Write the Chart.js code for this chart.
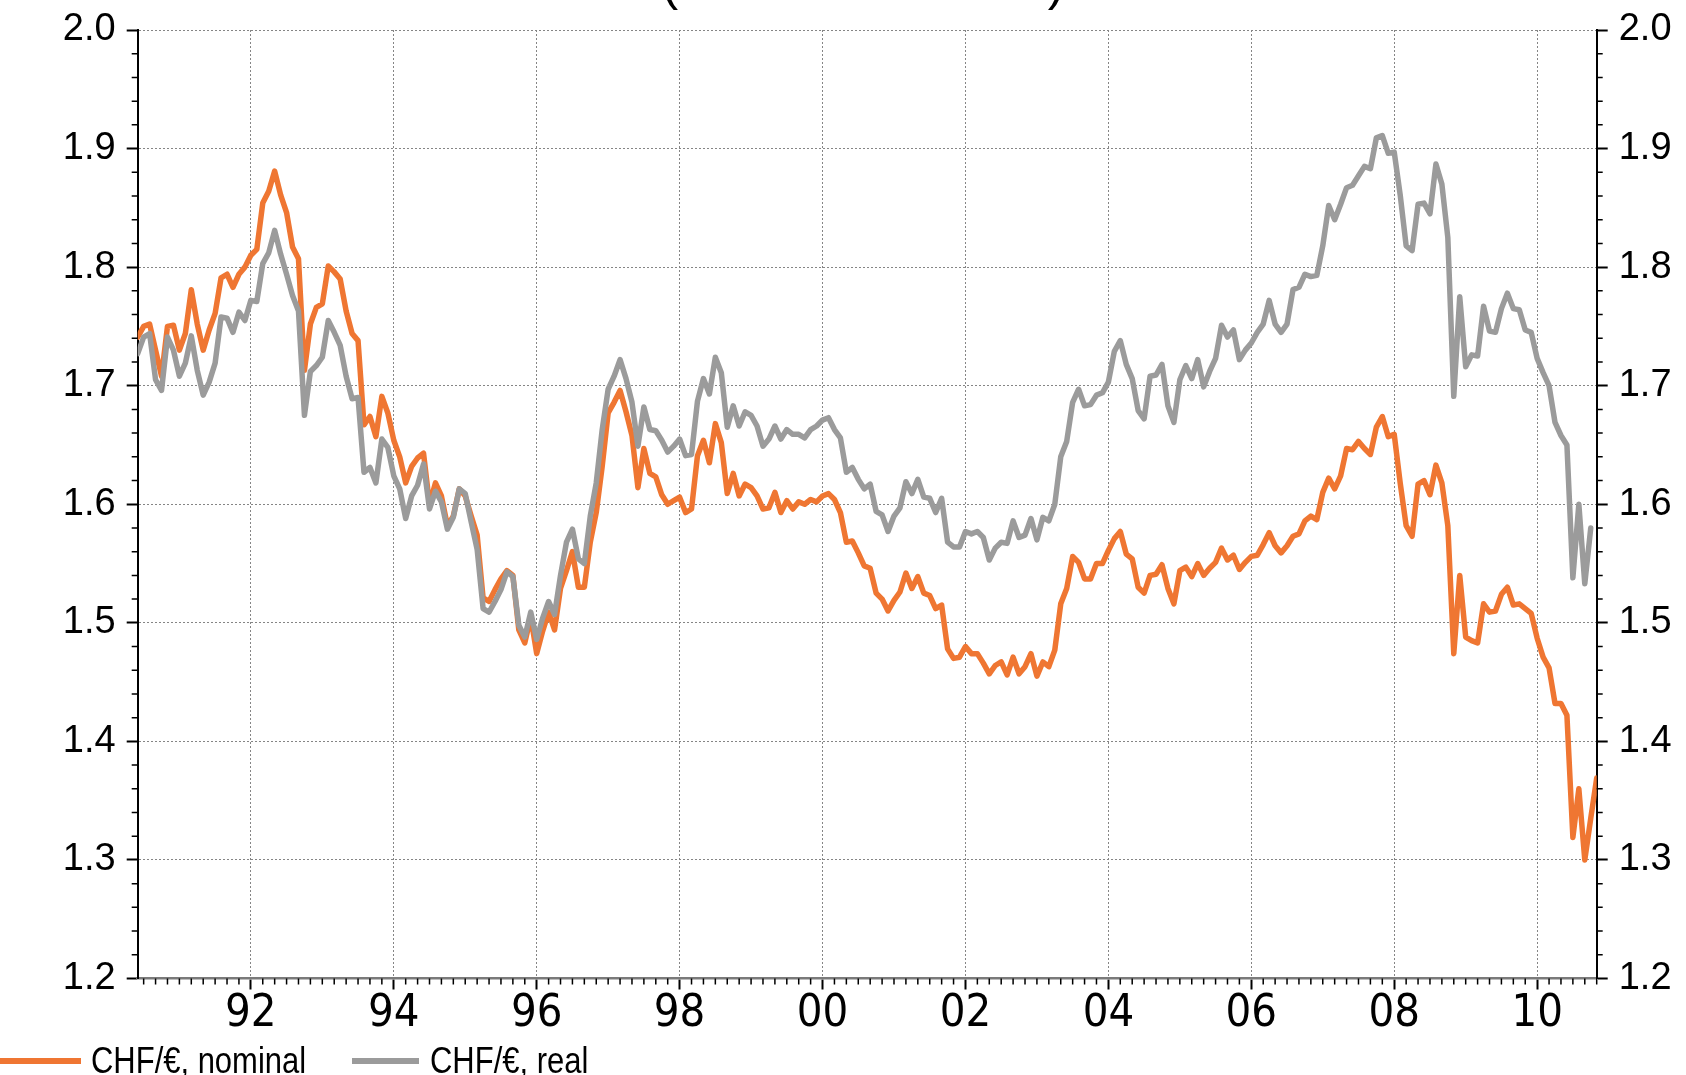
<!DOCTYPE html>
<html>
<head>
<meta charset="utf-8">
<script src="https://cdn.jsdelivr.net/npm/chart.js@4.4.1/dist/chart.umd.min.js"></script>
<style>
  html, body { margin: 0; padding: 0; background: #fff; }
  #page { position: relative; width: 1686px; height: 1075px; overflow: hidden; }
  #chart { position: absolute; left: 0; top: 0; }
  #title { position: absolute; left: 863px; top: -42px; transform: translateX(-50%);
           font: 50px/50px 'Liberation Sans', Arial, sans-serif; white-space: nowrap; color: #000; }
  .swatch { position: absolute; height: 6px; top: 1058px; }
  .ltxt { position: absolute; top: 1040px; font: 36px/42px 'Liberation Sans', Arial, sans-serif;
          color: #000; white-space: nowrap; transform: scaleX(0.86); transform-origin: left center; }
</style>
</head>
<body>
<div id="page">
  <canvas id="chart" width="1686" height="1075"></canvas>
  <div id="title">(nominal and real)</div>
  <div id="legend"></div>
</div>
<script>
// CHF per EUR, monthly, June 1990 .. Nov 2010
const firstYear = 1990;
const firstMonth = 6;

const seriesLabels = ['CHF/€, nominal', 'CHF/€, real'];
const seriesColors = ['#EF7632', '#9B9B9B'];

const nominal = [
  1.741, 1.750, 1.752, 1.730, 1.708, 1.750, 1.751, 1.730, 1.744, 1.781,
  1.752, 1.730, 1.747, 1.761, 1.791, 1.794, 1.783, 1.794, 1.800, 1.810,
  1.815, 1.854, 1.864, 1.881, 1.861, 1.846, 1.817, 1.807, 1.713, 1.752,
  1.766, 1.769, 1.801, 1.796, 1.790, 1.763, 1.744, 1.738, 1.667, 1.674,
  1.657, 1.691, 1.677, 1.654, 1.640, 1.618, 1.632, 1.639, 1.643, 1.600,
  1.618, 1.607, 1.582, 1.590, 1.613, 1.607, 1.590, 1.574, 1.521, 1.518,
  1.528, 1.537, 1.544, 1.540, 1.494, 1.483, 1.505, 1.474, 1.493, 1.509,
  1.494, 1.529, 1.544, 1.560, 1.530, 1.530, 1.568, 1.593, 1.632, 1.677,
  1.686, 1.696, 1.678, 1.658, 1.614, 1.647, 1.626, 1.623, 1.608, 1.600,
  1.603, 1.606, 1.593, 1.596, 1.641, 1.654, 1.635, 1.668, 1.652, 1.609,
  1.626, 1.607, 1.617, 1.614, 1.607, 1.596, 1.597, 1.610, 1.593, 1.603,
  1.596, 1.602, 1.600, 1.604, 1.602, 1.607, 1.609, 1.604, 1.593, 1.568,
  1.569, 1.559, 1.548, 1.546, 1.525, 1.520, 1.510, 1.519, 1.526, 1.542,
  1.529, 1.539, 1.525, 1.523, 1.512, 1.515, 1.478, 1.470, 1.471, 1.480,
  1.474, 1.474, 1.466, 1.457, 1.464, 1.467, 1.456, 1.471, 1.457, 1.463,
  1.474, 1.455, 1.467, 1.463, 1.477, 1.516, 1.529, 1.556, 1.551, 1.537,
  1.537, 1.550, 1.550, 1.561, 1.571, 1.577, 1.558, 1.554, 1.530, 1.525,
  1.540, 1.541, 1.549, 1.529, 1.516, 1.544, 1.547, 1.539, 1.550, 1.540,
  1.546, 1.551, 1.563, 1.553, 1.557, 1.545, 1.551, 1.556, 1.557, 1.566,
  1.576, 1.565, 1.559, 1.565, 1.573, 1.575, 1.586, 1.590, 1.587, 1.610,
  1.622, 1.613, 1.624, 1.647, 1.646, 1.653, 1.647, 1.642, 1.665, 1.674,
  1.657, 1.659, 1.618, 1.582, 1.573, 1.617, 1.620, 1.608, 1.633, 1.618,
  1.582, 1.474, 1.540, 1.488, 1.485, 1.483, 1.516, 1.509, 1.510, 1.524,
  1.530, 1.515, 1.516, 1.512, 1.508, 1.487, 1.471, 1.462, 1.432, 1.432,
  1.422, 1.319, 1.360, 1.300, 1.335, 1.369
];

const real = [
  1.727, 1.741, 1.744, 1.705, 1.696, 1.741, 1.730, 1.708, 1.719, 1.742,
  1.713, 1.692, 1.703, 1.719, 1.758, 1.757, 1.745, 1.762, 1.755, 1.772,
  1.771, 1.803, 1.812, 1.831, 1.811, 1.794, 1.776, 1.763, 1.675, 1.712,
  1.717, 1.724, 1.755, 1.745, 1.734, 1.708, 1.689, 1.690, 1.627, 1.631,
  1.618, 1.655, 1.648, 1.624, 1.613, 1.588, 1.607, 1.616, 1.634, 1.596,
  1.611, 1.602, 1.579, 1.589, 1.613, 1.609, 1.585, 1.562, 1.512, 1.509,
  1.518, 1.528, 1.543, 1.539, 1.498, 1.488, 1.509, 1.486, 1.504, 1.518,
  1.507, 1.540, 1.568, 1.579, 1.554, 1.550, 1.590, 1.618, 1.663, 1.697,
  1.708, 1.722, 1.706, 1.686, 1.649, 1.682, 1.663, 1.662, 1.654, 1.644,
  1.649, 1.655, 1.641, 1.642, 1.687, 1.706, 1.693, 1.724, 1.711, 1.665,
  1.683, 1.666, 1.678, 1.675, 1.666, 1.649, 1.655, 1.666, 1.655, 1.663,
  1.659, 1.659, 1.656, 1.663, 1.666, 1.671, 1.673, 1.663, 1.656, 1.627,
  1.631, 1.621, 1.613, 1.617, 1.594, 1.591, 1.577, 1.590, 1.597, 1.619,
  1.609, 1.621, 1.606, 1.605, 1.593, 1.605, 1.568, 1.564, 1.564, 1.577,
  1.575, 1.577, 1.572, 1.553, 1.563, 1.568, 1.567, 1.586, 1.572, 1.574,
  1.588, 1.570, 1.589, 1.586, 1.600, 1.640, 1.653, 1.686, 1.697, 1.683,
  1.684, 1.692, 1.694, 1.703, 1.729, 1.738, 1.718, 1.706, 1.679, 1.672,
  1.708, 1.709, 1.718, 1.683, 1.669, 1.705, 1.717, 1.706, 1.722, 1.699,
  1.712, 1.723, 1.751, 1.741, 1.747, 1.722, 1.730, 1.736, 1.745, 1.752,
  1.772, 1.752, 1.745, 1.752, 1.781, 1.783, 1.794, 1.792, 1.793, 1.818,
  1.852, 1.840, 1.853, 1.867, 1.869, 1.877, 1.885, 1.883, 1.909, 1.911,
  1.896, 1.897, 1.861, 1.818, 1.814, 1.853, 1.854, 1.845, 1.887, 1.870,
  1.825, 1.691, 1.775, 1.716, 1.726, 1.725, 1.767, 1.746, 1.745, 1.765,
  1.778, 1.765, 1.764, 1.747, 1.745, 1.723, 1.711, 1.700, 1.669, 1.658,
  1.650, 1.538, 1.600, 1.533, 1.580
];

const yearTicks = [1992, 1994, 1996, 1998, 2000, 2002, 2004, 2006, 2008, 2010];
const valueTicks = [1.2, 1.3, 1.4, 1.5, 1.6, 1.7, 1.8, 1.9, 2.0];

const monthPos = (i) => firstYear + (firstMonth - 1 + i) / 12;
const toPoints = (arr) => arr.map((v, i) => ({ x: monthPos(i), y: v }));

const tickFont = { family: "'Liberation Sans', Arial, sans-serif", size: 38, lineHeight: 1 };
const xFont = { family: "'Liberation Sans Narrow', 'Arial Narrow', 'DejaVu Sans Condensed', 'Liberation Sans', Arial, sans-serif", size: 45, lineHeight: 1 };
const gridColor = '#858585';

// small ticks between the labelled ones (2 months on x, 0.02 on y)
const minorTicks = {
  id: 'minorTicks',
  afterDraw(chart) {
    const { ctx, scales: { x, y, y2 } } = chart;
    ctx.save();
    ctx.strokeStyle = '#000';
    ctx.lineWidth = 1.5;
    ctx.beginPath();
    for (let m = 0; m <= 21 * 6; m++) {
      const v = firstYear + m / 6;
      if (v < x.min || v > x.max || m % 12 === 0) continue;
      const px = x.getPixelForValue(v);
      ctx.moveTo(px, x.top);
      ctx.lineTo(px, x.top + 6);
    }
    for (let k = 61; k < 100; k++) {
      if (k % 5 === 0) continue;
      const py = y.getPixelForValue(k / 50);
      ctx.moveTo(y.right, py);
      ctx.lineTo(y.right - 6, py);
      ctx.moveTo(y2.left, py);
      ctx.lineTo(y2.left + 6, py);
    }
    ctx.stroke();
    ctx.restore();
  }
};

const yAxis = (position, width) => ({
  type: 'linear',
  position,
  min: 1.2,
  max: 2.0,
  afterBuildTicks: (s) => { s.ticks = valueTicks.map(v => ({ value: v })); },
  afterFit: (s) => { s.width = width; },
  ticks: { callback: (v) => v.toFixed(1), font: tickFont, color: '#000', padding: 11 },
  grid: {
    drawOnChartArea: position === 'left',
    color: gridColor, lineWidth: 1,
    tickLength: 11, tickColor: '#000', tickWidth: 2
  },
  border: { color: '#000', width: 2, dash: [2, 2] }
});

new Chart(document.getElementById('chart'), {
  type: 'line',
  data: {
    datasets: [
      {
        label: seriesLabels[0],
        data: toPoints(nominal),
        borderColor: seriesColors[0],
        backgroundColor: seriesColors[0],
        borderWidth: 5.5,
        order: 1
      },
      {
        label: seriesLabels[1],
        data: toPoints(real),
        borderColor: seriesColors[1],
        backgroundColor: seriesColors[1],
        borderWidth: 5.5,
        order: 0
      }
    ]
  },
  options: {
    responsive: false,
    animation: false,
    devicePixelRatio: 1,
    layout: { padding: { top: 24.7, left: 0, right: 0, bottom: 0 } },
    elements: {
      point: { radius: 0 },
      line: { tension: 0, borderCapStyle: 'round', borderJoinStyle: 'round' }
    },
    plugins: { legend: { display: false }, tooltip: { enabled: false } },
    scales: {
      x: {
        type: 'linear',
        min: monthPos(0),
        max: monthPos(nominal.length - 1),
        afterBuildTicks: (s) => { s.ticks = yearTicks.map(v => ({ value: v })); },
        afterFit: (s) => { s.height = 96.5; },
        ticks: {
          callback: (v) => String(v % 100).padStart(2, '0'),
          font: xFont, color: '#000', padding: 2, maxRotation: 0, autoSkip: false
        },
        grid: { color: gridColor, lineWidth: 1, tickLength: 11, tickColor: '#000', tickWidth: 2 },
        border: { color: '#7a7a7a', width: 2.5, dash: [2, 2] }
      },
      y: yAxis('left', 137.7),
      y2: yAxis('right', 89.3)
    }
  },
  plugins: [minorTicks]
});

// legend below the plot
const legendBox = document.getElementById('legend');
const swatchX = [0, 352], swatchW = [81, 67], textX = [91, 430];
seriesLabels.forEach((lab, i) => {
  const sw = document.createElement('div');
  sw.className = 'swatch';
  sw.style.left = swatchX[i] + 'px';
  sw.style.width = swatchW[i] + 'px';
  sw.style.background = seriesColors[i];
  legendBox.appendChild(sw);
  const tx = document.createElement('div');
  tx.className = 'ltxt';
  tx.style.left = textX[i] + 'px';
  tx.textContent = lab;
  legendBox.appendChild(tx);
});
</script>
</body>
</html>
